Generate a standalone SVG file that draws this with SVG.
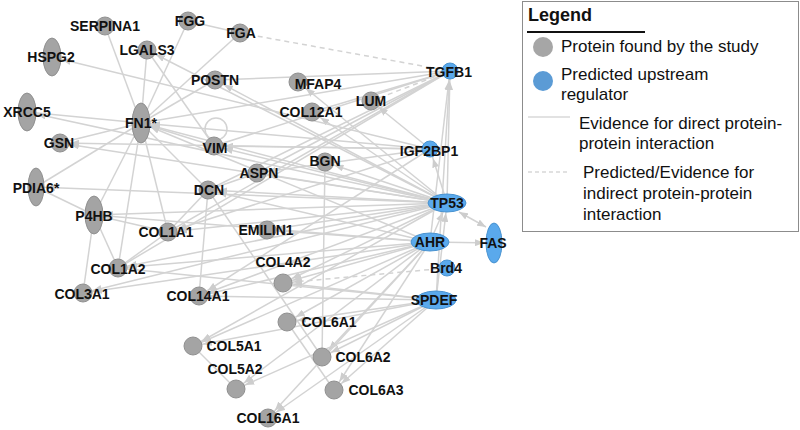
<svg xmlns="http://www.w3.org/2000/svg" width="800" height="430" viewBox="0 0 800 430">
<style>
.e{stroke:#d3d3d3;stroke-width:1.5;fill:none}
.d{marker-end:url(#ar)}
.ds{stroke-dasharray:5 4}
.g{fill:#a4a4a4;stroke:#909090;stroke-width:1}
.b{fill:#5aa9ec;stroke:#4a93d0;stroke-width:1}
.t{font-family:"Liberation Sans",Arial,sans-serif;font-weight:bold;font-size:14px;fill:#111;text-anchor:middle;dominant-baseline:central}
.l{font-family:"Liberation Sans",Arial,sans-serif;font-size:17px;fill:#111}
</style>
<defs>
<marker id="ar" markerUnits="userSpaceOnUse" viewBox="0 0 20 7" markerWidth="20" markerHeight="7" refX="19" refY="3.5" orient="auto"><path d="M0,0 L9,3.5 L0,7 z" fill="#cdcdcd"/></marker>
<marker id="tip" markerUnits="userSpaceOnUse" viewBox="0 0 9 7" markerWidth="9" markerHeight="7" refX="9" refY="3.5" orient="auto-start-reverse"><path d="M0,0 L9,3.5 L0,7 z" fill="#cdcdcd"/></marker>
</defs>
<rect width="800" height="430" fill="#fff"/>
<g id="connectors">
<line class="e" x1="141" y1="123" x2="105" y2="26"/>
<line class="e" x1="141" y1="123" x2="188" y2="21"/>
<line class="e" x1="141" y1="123" x2="240" y2="33"/>
<line class="e" x1="141" y1="123" x2="147" y2="50"/>
<line class="e" x1="141" y1="123" x2="60" y2="143"/>
<line class="e" x1="141" y1="123" x2="215" y2="80"/>
<line class="e" x1="141" y1="123" x2="214" y2="146"/>
<line class="e" x1="141" y1="123" x2="208" y2="190"/>
<line class="e" x1="141" y1="123" x2="94" y2="215"/>
<line class="e" x1="141" y1="123" x2="168" y2="232"/>
<line class="e" x1="141" y1="123" x2="118" y2="268"/>
<line class="e" x1="141" y1="123" x2="36" y2="187"/>
<line class="e" x1="141" y1="123" x2="450" y2="71"/>
<line class="e" x1="141" y1="123" x2="27" y2="112"/>
<line class="e" x1="188" y1="21" x2="240" y2="33"/>
<line class="e" x1="147" y1="50" x2="214" y2="146"/>
<line class="e" x1="215" y1="80" x2="450" y2="71"/>
<line class="e" x1="36" y1="187" x2="94" y2="215"/>
<line class="e" x1="94" y1="215" x2="168" y2="232"/>
<line class="e" x1="94" y1="215" x2="118" y2="268"/>
<line class="e" x1="94" y1="215" x2="83" y2="293"/>
<line class="e" x1="168" y1="232" x2="118" y2="268"/>
<line class="e" x1="168" y1="232" x2="208" y2="190"/>
<line class="e" x1="208" y1="190" x2="257" y2="173"/>
<line class="e" x1="208" y1="190" x2="199" y2="296"/>
<line class="e" x1="208" y1="190" x2="322" y2="357"/>
<line class="e" x1="325" y1="162" x2="322" y2="357"/>
<line class="e" x1="193" y1="346" x2="236" y2="389"/>
<line class="e" x1="287" y1="322" x2="334" y2="390"/>
<line class="e" x1="450" y1="71" x2="214" y2="146"/>
<line class="e" x1="450" y1="71" x2="168" y2="232"/>
<line class="e" x1="450" y1="71" x2="208" y2="190"/>
<line class="e" x1="450" y1="71" x2="118" y2="268"/>
<line class="e" x1="450" y1="71" x2="257" y2="173"/>
<line class="e" x1="450" y1="71" x2="312" y2="112"/>
<line class="e ds" x1="240" y1="33" x2="450" y2="71"/>
<line class="e ds" x1="371" y1="101" x2="450" y2="71"/>
<line class="e ds d" x1="447" y1="268" x2="283" y2="283"/>
<line class="e d" x1="447" y1="203" x2="27" y2="112"/>
<line class="e d" x1="447" y1="203" x2="60" y2="143"/>
<line class="e d" x1="447" y1="203" x2="141" y2="123"/>
<line class="e d" x1="447" y1="203" x2="147" y2="50"/>
<line class="e d" x1="447" y1="203" x2="215" y2="80"/>
<line class="e d" x1="447" y1="203" x2="214" y2="146"/>
<line class="e d" x1="447" y1="203" x2="312" y2="112"/>
<line class="e d" x1="447" y1="203" x2="298" y2="82"/>
<line class="e d" x1="447" y1="203" x2="257" y2="173"/>
<line class="e d" x1="447" y1="203" x2="208" y2="190"/>
<line class="e d" x1="447" y1="203" x2="36" y2="187"/>
<line class="e d" x1="447" y1="203" x2="94" y2="215"/>
<line class="e d" x1="447" y1="203" x2="168" y2="232"/>
<line class="e d" x1="447" y1="203" x2="118" y2="268"/>
<line class="e d" x1="447" y1="203" x2="83" y2="293"/>
<line class="e d" x1="447" y1="203" x2="199" y2="296"/>
<line class="e d" x1="447" y1="203" x2="267" y2="230"/>
<line class="e d" x1="447" y1="203" x2="193" y2="346"/>
<line class="e d" x1="447" y1="203" x2="325" y2="162"/>
<line class="e d" x1="447" y1="203" x2="450" y2="71"/>
<line class="e d" x1="447" y1="203" x2="430" y2="149"/>
<line class="e d" x1="447" y1="203" x2="283" y2="283"/>
<line class="e d" x1="430" y1="149" x2="52" y2="57"/>
<line class="e d" x1="430" y1="149" x2="371" y2="101"/>
<line class="e d" x1="430" y1="149" x2="141" y2="123"/>
<line class="e d" x1="430" y1="149" x2="214" y2="146"/>
<line class="e d" x1="430" y1="149" x2="60" y2="143"/>
<line class="e d" x1="430" y1="149" x2="199" y2="296"/>
<line class="e d" x1="430" y1="149" x2="168" y2="232"/>
<line class="e d" x1="430" y1="149" x2="257" y2="173"/>
<line class="e d" x1="430" y1="242" x2="141" y2="123"/>
<line class="e d" x1="430" y1="242" x2="118" y2="268"/>
<line class="e d" x1="430" y1="242" x2="83" y2="293"/>
<line class="e d" x1="430" y1="242" x2="199" y2="296"/>
<line class="e d" x1="430" y1="242" x2="283" y2="283"/>
<line class="e d" x1="430" y1="242" x2="287" y2="322"/>
<line class="e d" x1="430" y1="242" x2="193" y2="346"/>
<line class="e d" x1="430" y1="242" x2="322" y2="357"/>
<line class="e d" x1="430" y1="242" x2="334" y2="390"/>
<line class="e d" x1="430" y1="242" x2="236" y2="389"/>
<line class="e d" x1="430" y1="242" x2="268" y2="418"/>
<line class="e d" x1="430" y1="242" x2="447" y2="203"/>
<line class="e d" x1="430" y1="242" x2="494" y2="243"/>
<line class="e d" x1="430" y1="242" x2="450" y2="71"/>
<line class="e d" x1="430" y1="242" x2="267" y2="230"/>
<line class="e d" x1="430" y1="242" x2="208" y2="190"/>
<line class="e d" x1="430" y1="242" x2="94" y2="215"/>
<line class="e d" x1="436" y1="300" x2="447" y2="203"/>
<line class="e d" x1="436" y1="300" x2="283" y2="283"/>
<line class="e d" x1="436" y1="300" x2="287" y2="322"/>
<line class="e d" x1="436" y1="300" x2="322" y2="357"/>
<line class="e d" x1="436" y1="300" x2="334" y2="390"/>
<line class="e d" x1="436" y1="300" x2="236" y2="389"/>
<line class="e d" x1="436" y1="300" x2="268" y2="418"/>
<line class="e d" x1="436" y1="300" x2="450" y2="71"/>
<line class="e d" x1="436" y1="300" x2="118" y2="268"/>
<line class="e d" x1="436" y1="300" x2="193" y2="346"/>
<line class="e d" x1="436" y1="300" x2="199" y2="296"/>
<line class="e" x1="459" y1="212" x2="486" y2="227" marker-start="url(#tip)" marker-end="url(#tip)"/>
<circle class="e" cx="216" cy="129" r="11"/>
</g>
<g id="n-SERPINA1"><circle class="g" cx="105" cy="26" r="9"/><text class="t" x="105" y="26">SERPINA1</text></g>
<g id="n-FGG"><circle class="g" cx="188" cy="21" r="9"/><text class="t" x="190" y="21">FGG</text></g>
<g id="n-FGA"><circle class="g" cx="240" cy="33" r="9"/><text class="t" x="241" y="33">FGA</text></g>
<g id="n-HSPG2"><ellipse class="g" cx="52" cy="57" rx="9" ry="19"/><text class="t" x="51" y="57">HSPG2</text></g>
<g id="n-LGALS3"><circle class="g" cx="147" cy="50" r="9"/><text class="t" x="147" y="50">LGALS3</text></g>
<g id="n-POSTN"><circle class="g" cx="215" cy="80" r="9"/><text class="t" x="215" y="80">POSTN</text></g>
<g id="n-MFAP4"><circle class="g" cx="298" cy="82" r="9"/><text class="t" x="318" y="84">MFAP4</text></g>
<g id="n-XRCC5"><ellipse class="g" cx="27" cy="112" rx="9" ry="19"/><text class="t" x="27" y="112">XRCC5</text></g>
<g id="n-FN1"><ellipse class="g" cx="141" cy="123" rx="9" ry="20"/><text class="t" x="141" y="123">FN1*</text></g>
<g id="n-COL12A1"><circle class="g" cx="312" cy="112" r="9"/><text class="t" x="311" y="112">COL12A1</text></g>
<g id="n-LUM"><circle class="g" cx="371" cy="101" r="9"/><text class="t" x="371" y="101">LUM</text></g>
<g id="n-TGFB1"><circle class="b" cx="450" cy="71" r="8"/><text class="t" x="449" y="72">TGFB1</text></g>
<g id="n-GSN"><circle class="g" cx="60" cy="143" r="9"/><text class="t" x="59" y="143">GSN</text></g>
<g id="n-VIM"><circle class="g" cx="214" cy="146" r="9"/><text class="t" x="215" y="148">VIM</text></g>
<g id="n-IGF2BP1"><circle class="b" cx="430" cy="149" r="8"/><text class="t" x="429" y="151">IGF2BP1</text></g>
<g id="n-BGN"><circle class="g" cx="325" cy="162" r="9"/><text class="t" x="325" y="161">BGN</text></g>
<g id="n-ASPN"><circle class="g" cx="257" cy="173" r="9"/><text class="t" x="259" y="173">ASPN</text></g>
<g id="n-PDIA6"><ellipse class="g" cx="36" cy="187" rx="8" ry="19"/><text class="t" x="36" y="188">PDIA6*</text></g>
<g id="n-DCN"><circle class="g" cx="208" cy="190" r="9"/><text class="t" x="209" y="190">DCN</text></g>
<g id="n-TP53"><ellipse class="b" cx="447" cy="203" rx="19" ry="9"/><text class="t" x="447" y="203">TP53</text></g>
<g id="n-P4HB"><ellipse class="g" cx="94" cy="215" rx="9" ry="19"/><text class="t" x="94" y="216">P4HB</text></g>
<g id="n-COL1A1"><circle class="g" cx="168" cy="232" r="9"/><text class="t" x="166" y="232">COL1A1</text></g>
<g id="n-EMILIN1"><circle class="g" cx="267" cy="230" r="9"/><text class="t" x="266" y="230">EMILIN1</text></g>
<g id="n-AHR"><ellipse class="b" cx="430" cy="242" rx="19" ry="9"/><text class="t" x="430" y="242">AHR</text></g>
<g id="n-FAS"><ellipse class="b" cx="494" cy="243" rx="8" ry="20"/><text class="t" x="493" y="243">FAS</text></g>
<g id="n-COL1A2"><circle class="g" cx="118" cy="268" r="9"/><text class="t" x="118" y="269">COL1A2</text></g>
<g id="n-COL4A2"><circle class="g" cx="283" cy="283" r="9"/><text class="t" x="283" y="262">COL4A2</text></g>
<g id="n-Brd4"><circle class="b" cx="447" cy="268" r="8"/><text class="t" x="446" y="268">Brd4</text></g>
<g id="n-COL3A1"><circle class="g" cx="83" cy="293" r="9"/><text class="t" x="82" y="294">COL3A1</text></g>
<g id="n-COL14A1"><circle class="g" cx="199" cy="296" r="9"/><text class="t" x="198" y="296">COL14A1</text></g>
<g id="n-SPDEF"><ellipse class="b" cx="436" cy="300" rx="20" ry="9"/><text class="t" x="434" y="300">SPDEF</text></g>
<g id="n-COL6A1"><circle class="g" cx="287" cy="322" r="9"/><text class="t" x="329" y="322">COL6A1</text></g>
<g id="n-COL5A1"><circle class="g" cx="193" cy="346" r="9"/><text class="t" x="234" y="346">COL5A1</text></g>
<g id="n-COL6A2"><circle class="g" cx="322" cy="357" r="9"/><text class="t" x="363" y="357">COL6A2</text></g>
<g id="n-COL5A2"><circle class="g" cx="236" cy="389" r="9"/><text class="t" x="235" y="369">COL5A2</text></g>
<g id="n-COL6A3"><circle class="g" cx="334" cy="390" r="9"/><text class="t" x="376" y="390">COL6A3</text></g>
<g id="n-COL16A1"><circle class="g" cx="268" cy="418" r="9"/><text class="t" x="268" y="418">COL16A1</text></g>
<g id="legend">
<rect x="522.5" y="1.5" width="276" height="230" fill="#fff" stroke="#8c8c8c" stroke-width="1"/>
<text x="528" y="21" font-family="Liberation Sans, Arial, sans-serif" font-weight="bold" font-size="18" fill="#111">Legend</text>
<line x1="527" y1="32" x2="645" y2="32" stroke="#111" stroke-width="2"/>
<circle cx="543" cy="47" r="10" fill="#a6a6a6"/>
<text class="l" x="561" y="52">Protein found by the study</text>
<circle cx="543" cy="81" r="10" fill="#5b9bd5"/>
<text class="l" x="561" y="80">Predicted upstream</text>
<text class="l" x="561" y="100">regulator</text>
<line x1="528" y1="117" x2="570" y2="117" stroke="#d8d8d8" stroke-width="1.5"/>
<text class="l" x="579" y="129">Evidence for direct protein-</text>
<text class="l" x="579" y="149">protein interaction</text>
<line x1="528" y1="172" x2="570" y2="172" stroke="#d8d8d8" stroke-width="1.5" stroke-dasharray="4 3"/>
<text class="l" x="583" y="178">Predicted/Evidence for</text>
<text class="l" x="583" y="199">indirect protein-protein</text>
<text class="l" x="583" y="220">interaction</text>
</g>
</svg>
